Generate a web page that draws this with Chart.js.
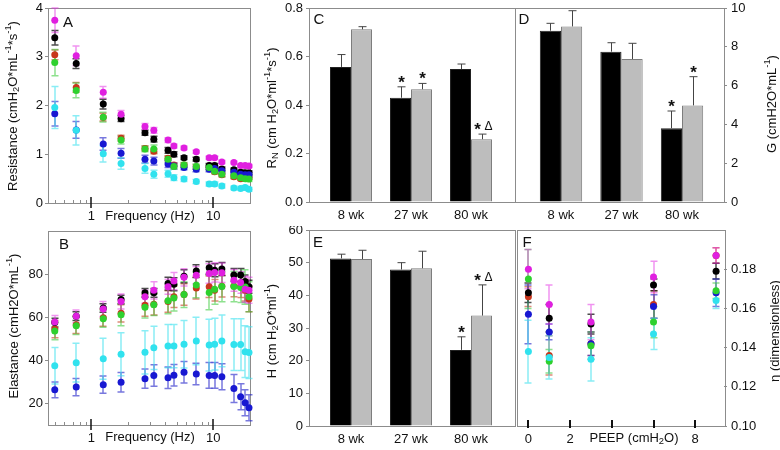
<!DOCTYPE html>
<html>
<head>
<meta charset="utf-8">
<script src="https://cdn.jsdelivr.net/npm/chart.js@4.4.1/dist/chart.umd.min.js"></script>
<style>
  html, body { margin: 0; padding: 0; background: #fff; }
  #wrap { position: relative; width: 780px; height: 450px; overflow: hidden; }
  #wrap canvas { position: absolute; }
</style>
</head>
<body>
<div id="wrap">
  <canvas id="panelA" width="258" height="226" style="left:0;top:0"></canvas>
  <canvas id="panelB" width="258" height="224" style="left:0;top:226px"></canvas>
  <canvas id="panelC" width="259" height="226" style="left:258px;top:0"></canvas>
  <canvas id="panelD" width="267" height="226" style="left:513px;top:0"></canvas>
  <canvas id="panelE" width="259" height="224" style="left:258px;top:226px"></canvas>
  <canvas id="panelF" width="267" height="224" style="left:513px;top:226px"></canvas>
</div>
<script>
// ---- data: frequency panels (A, B) ----
const freqHz = [0.5, 0.75, 1.25, 1.75, 2.75, 3.25, 4.25, 4.75, 5.75, 7.25, 9.25, 10.25, 11.75, 14.75, 16.75, 18.25, 19.625];

const resMagenta = [3.75, 3.02, 2.27, 1.82, 1.57, 1.49, 1.29, 1.17, 1.13, 1.05, 0.93, 0.93, 0.84, 0.83, 0.77, 0.77, 0.76];
const resBlack   = [3.39, 2.86, 2.03, 1.73, 1.44, 1.31, 1.08, 1.00, 0.93, 0.90, 0.77, 0.77, 0.70, 0.68, 0.63, 0.62, 0.62];
const resRed     = [3.04, 2.37, 1.76, 1.33, 1.12, 1.06, 0.92, 0.78, 0.78, 0.74, 0.72, 0.64, 0.58, 0.54, 0.50, 0.51, 0.52];
const resGreen   = [2.88, 2.31, 1.76, 1.29, 1.11, 1.11, 0.90, 0.75, 0.78, 0.75, 0.73, 0.65, 0.59, 0.56, 0.52, 0.50, 0.49];
const resBlue    = [1.83, 1.50, 1.21, 1.02, 0.90, 0.86, 0.80, 0.76, 0.73, 0.69, 0.69, 0.71, 0.66, 0.63, 0.59, 0.58, 0.58];
const resCyan    = [1.96, 1.49, 1.01, 0.81, 0.71, 0.59, 0.60, 0.52, 0.49, 0.44, 0.39, 0.39, 0.35, 0.31, 0.30, 0.32, 0.28];

const resMagentaSd = [0.25, 0.20, 0.12, 0.08, 0.06, 0.06, 0.05, 0.04, 0.04, 0.03, 0.03, 0.03, 0.03, 0.03, 0.03, 0.03, 0.03];
const resBlackSd   = [0.15, 0.10, 0.10, 0.06, 0.05, 0.06, 0.06, 0.05, 0.04, 0.04, 0.04, 0.04, 0.04, 0.04, 0.04, 0.04, 0.04];
const resRedSd     = [0.10, 0.10, 0.08, 0.06, 0.05, 0.05, 0.05, 0.04, 0.04, 0.04, 0.04, 0.04, 0.04, 0.04, 0.04, 0.04, 0.04];
const resGreenSd   = [0.27, 0.15, 0.10, 0.08, 0.06, 0.08, 0.06, 0.05, 0.05, 0.05, 0.05, 0.05, 0.05, 0.05, 0.05, 0.05, 0.05];
const resBlueSd    = [0.25, 0.17, 0.13, 0.10, 0.08, 0.08, 0.07, 0.06, 0.05, 0.05, 0.05, 0.05, 0.05, 0.05, 0.05, 0.05, 0.05];
const resCyanSd    = [0.43, 0.30, 0.17, 0.12, 0.10, 0.08, 0.07, 0.06, 0.05, 0.04, 0.04, 0.04, 0.04, 0.04, 0.04, 0.04, 0.04];

const elaMagenta = [57.8, 60.4, 63.8, 67.3, 69.5, 72.5, 74.1, 76.8, 78.5, 79.5, 80.3, 80.8, 80.6, 77.1, 76.1, 73.0, 72.5];
const elaBlack   = [57.5, 60.5, 64.3, 68.2, 71.3, 71.3, 75.6, 75.3, 79.0, 81.4, 82.9, 81.8, 82.4, 79.6, 79.6, 76.6, 74.1];
const elaRed     = [54.5, 56.5, 59.8, 61.8, 65.5, 66.0, 67.3, 69.5, 70.5, 73.5, 74.1, 72.5, 74.4, 74.5, 74.2, 72.5, 68.5];
const elaGreen   = [53.6, 56.0, 59.3, 61.1, 64.6, 65.8, 67.6, 68.9, 70.5, 75.0, 71.5, 73.0, 74.2, 74.2, 73.8, 74.0, 69.5];
const elaBlue    = [26.3, 27.6, 28.7, 29.8, 31.5, 33.0, 31.9, 33.1, 34.5, 33.7, 33.0, 33.0, 32.4, 26.9, 23.1, 20.3, 18.0];
const elaCyan    = [37.5, 38.9, 40.7, 42.8, 43.7, 45.8, 46.6, 46.6, 47.5, 49.0, 47.1, 47.5, 49.0, 47.3, 47.3, 44.0, 43.6];

const elaMagentaSd = [3, 3, 3.5, 3.5, 3, 4, 3.5, 4, 4, 4, 4.5, 4.5, 4.5, 5, 5, 6, 6];
const elaBlackSd   = [2, 2, 2, 2, 2, 2, 3, 3, 3, 3, 3, 3, 3, 3, 3, 3, 3];
const elaRedSd     = [4, 4, 4, 4, 5, 5, 5, 5, 5, 5, 5, 5, 5, 5, 5, 5, 6];
const elaGreenSd   = [4, 4, 4, 5, 5, 5, 6, 6, 6, 6, 8, 7, 7, 7, 7, 8, 7];
const elaBlueSd    = [3.7, 4, 4, 4.5, 4.5, 5, 5, 5, 5, 5, 6, 6, 6, 6.5, 6, 6, 6];
const elaCyanSd    = [8.5, 9, 9.5, 10, 10, 10, 10, 10, 11, 11, 12, 12, 12, 12, 12, 12, 12];

// ---- data: PEEP panel (F) ----
const peepCmH2O = [0, 1, 3, 6, 9];
const etaMagenta = [0.180, 0.162, 0.153, 0.176, 0.187];
const etaBlack   = [0.168, 0.155, 0.152, 0.172, 0.179];
const etaRed     = [0.166, 0.136, 0.142, 0.162, 0.187];
const etaGreen   = [0.175, 0.133, 0.141, 0.153, 0.169];
const etaBlue    = [0.157, 0.148, 0.142, 0.161, 0.168];
const etaCyan    = [0.138, 0.135, 0.134, 0.147, 0.164];
const etaMagentaSd = [0.010, 0.010, 0.009, 0.008, 0.004];
const etaBlackSd   = [0.005, 0.007, 0.005, 0.003, 0.004];
const etaRedSd     = [0.005, 0.010, 0.006, 0.007, 0.004];
const etaGreenSd   = [0.015, 0.006, 0.007, 0.008, 0.004];
const etaBlueSd    = [0.015, 0.004, 0.006, 0.006, 0.007];
const etaCyanSd    = [0.016, 0.011, 0.011, 0.008, 0.004];

// ---- data: bar panels (C, D, E) ----
const ageGroups = ['8 wk', '27 wk', '80 wk'];
const rnBlack = [0.557, 0.430, 0.548];  const rnBlackSe = [0.051, 0.045, 0.021];
const rnGray  = [0.712, 0.465, 0.259];  const rnGraySe  = [0.011, 0.024, 0.021];
const rnBlackMarks = ['', '*', ''];     const rnGrayMarks = ['', '*', '*Δ'];
const gBlack = [8.83, 7.75, 3.80];      const gBlackSe = [0.38, 0.46, 0.89];
const gGray  = [9.05, 7.37, 4.98];      const gGraySe  = [0.81, 0.81, 1.48];
const gBlackMarks = ['', '', '*'];      const gGrayMarks = ['', '', '*'];
const hBlack = [51.3, 47.9, 23.3];      const hBlackSe = [1.3, 2.1, 4.0];
const hGray  = [51.1, 48.3, 33.8];      const hGraySe  = [2.7, 5.2, 9.4];
const hBlackMarks = ['', '', '*'];      const hGrayMarks = ['', '', '*Δ'];

// ---- styling ----
const FONT = "'Liberation Sans', Arial, sans-serif";
Chart.defaults.font.family = FONT;
Chart.defaults.font.size = 13;
Chart.defaults.color = '#111';

const palette = {
  cyan:    ['#30e2ee', 'rgba(60,225,238,0.6)'],
  magenta: ['#e01fe0', 'rgba(225,40,225,0.5)'],
  green:   ['#2ed12e', 'rgba(50,200,50,0.55)'],
  blue:    ['#1818d2', 'rgba(30,30,200,0.6)'],
  black:   ['#000000', 'rgba(0,0,0,0.7)'],
  red:     ['#c8361c', 'rgba(200,60,30,0.6)']
};

function scatterSets(xs, list) {
  return list.map(([name, values, errors]) => ({
    label: name,
    data: xs.map((x, i) => ({ x: x, y: values[i] })),
    errors: errors,
    errColor: palette[name][1],
    backgroundColor: palette[name][0],
    borderWidth: 0,
    pointRadius: 3.5,
    pointHoverRadius: 3.5,
    clip: false
  }));
}

function barSets(blackVals, blackErr, blackMarks, grayVals, grayErr, grayMarks) {
  return [
    { data: blackVals.map((v, i) => ({ x: i, y: v })), errors: blackErr, marks: blackMarks,
      backgroundColor: '#000', borderColor: '#222', borderWidth: 1,
      categoryPercentage: 0.7, barPercentage: 1 },
    { data: grayVals.map((v, i) => ({ x: i, y: v })), errors: grayErr, marks: grayMarks,
      backgroundColor: '#bdbdbd', borderColor: '#7d7d7d', borderWidth: 1,
      categoryPercentage: 0.7, barPercentage: 1 }
  ];
}

// canvas boxes and chart areas in page pixels
function padFor(box, area, leftW, rightW, bottomH) {
  return {
    left: area[0] - box[0] - leftW,
    right: box[0] + box[2] - area[2] - rightW,
    top: area[1] - box[1],
    bottom: box[1] + box[3] - area[3] - bottomH
  };
}
function zeroPad(s) { s.paddingLeft = 0; s.paddingRight = 0; s.paddingTop = 0; s.paddingBottom = 0; }

const logMinor = [0.5, 0.6, 0.7, 0.8, 0.9, 2, 3, 4, 5, 6, 7, 8, 9, 20];

const panelDecor = {
  panelA: { box: [0, 0], letter: ['A', 68, 23],
    title: { x: 13, y: 106, parts: [['Resistance (cmH', ''], ['2', 'sub'], ['O*mL', ''], ['-1', 'sup'], ['*s', ''], ['-1', 'sup'], [')', '']] },
    extra: [{ x: 150, y: 216, parts: [['Frequency (Hz)', '']] }],
    xTicks: { major: [1, 10], minor: logMinor } },
  panelB: { box: [0, 226], letter: ['B', 64, 245],
    title: { x: 14, y: 326, parts: [['Elastance (cmH2O*mL', ''], ['-1', 'sup'], [')', '']] },
    extra: [{ x: 150, y: 437, parts: [['Frequency (Hz)', '']] }],
    xTicks: { major: [1, 10], minor: logMinor } },
  panelC: { box: [258, 0], letter: ['C', 319, 20],
    title: { x: 272, y: 108, parts: [['R', ''], ['N', 'sub'], [' (cm H', ''], ['2', 'sub'], ['O*ml', ''], ['-1', 'sup'], ['*s', ''], ['-1', 'sup'], [')', '']] },
    extra: [] },
  panelD: { box: [513, 0], letter: ['D', 524, 20],
    title: { x: 772, y: 104, parts: [['G (cmH2O*mL', ''], ['-1', 'sup'], [')', '']] },
    extra: [] },
  panelE: { box: [258, 226], letter: ['E', 318, 243],
    title: { x: 272, y: 331, parts: [['H (cm H', ''], ['2', 'sub'], ['O*ml', ''], ['-1', 'sup'], [')', '']] },
    extra: [] },
  panelF: { box: [513, 226], letter: ['F', 527, 243],
    title: { x: 775, y: 331, parts: [['η (dimensionless)', '']] },
    extra: [{ x: 634, y: 438, parts: [['PEEP (cmH', ''], ['2', 'sub'], ['O)', '']] }],
    xTicks: { major: [0, 2, 4, 6, 8], minor: [], heavy: true } }
};

function drawRich(ctx, parts, x, y, size, rotate) {
  ctx.save();
  ctx.translate(x, y);
  if (rotate) ctx.rotate(-Math.PI / 2);
  let total = 0;
  const widths = parts.map(([t, k]) => {
    ctx.font = (k ? size * 0.72 : size) + 'px ' + FONT;
    const w = ctx.measureText(t).width;
    total += w;
    return w;
  });
  let cx = -total / 2;
  ctx.textBaseline = 'middle';
  ctx.textAlign = 'left';
  ctx.fillStyle = '#111';
  parts.forEach(([t, k], i) => {
    ctx.font = (k ? size * 0.72 : size) + 'px ' + FONT;
    const dy = k === 'sub' ? size * 0.3 : (k === 'sup' ? -size * 0.33 : 0);
    ctx.fillText(t, cx, dy);
    cx += widths[i];
  });
  ctx.restore();
}

const decorPlugin = {
  id: 'decor',
  beforeDatasetsDraw(chart) {
    const a = chart.chartArea, ctx = chart.ctx;
    ctx.save();
    ctx.strokeStyle = '#8c8c8c';
    ctx.lineWidth = 1;
    ctx.strokeRect(Math.round(a.left) + 0.5, Math.round(a.top) + 0.5,
      Math.round(a.right - a.left), Math.round(a.bottom - a.top));
    ctx.restore();
  },
  afterDraw(chart) {
    const d = panelDecor[chart.canvas.id];
    const ctx = chart.ctx, a = chart.chartArea;
    const ox = d.box[0], oy = d.box[1];
    ctx.save();
    if (d.xTicks) {
      const xs = chart.scales.x;
      ctx.strokeStyle = '#8c8c8c';
      ctx.lineWidth = 1;
      d.xTicks.minor.forEach(v => {
        const px = Math.round(xs.getPixelForValue(v)) + 0.5;
        ctx.beginPath(); ctx.moveTo(px, a.bottom); ctx.lineTo(px, a.bottom - 3); ctx.stroke();
      });
      ctx.strokeStyle = '#111';
      ctx.lineWidth = d.xTicks.heavy ? 2 : 1.5;
      d.xTicks.major.forEach(v => {
        const px = Math.round(xs.getPixelForValue(v));
        ctx.beginPath(); ctx.moveTo(px, a.bottom - 6); ctx.lineTo(px, a.bottom + (d.xTicks.heavy ? 2 : 5)); ctx.stroke();
      });
    }
    ctx.fillStyle = '#111';
    ctx.font = '15px ' + FONT;
    ctx.textAlign = 'center';
    ctx.textBaseline = 'middle';
    ctx.fillText(d.letter[0], d.letter[1] - ox, d.letter[2] - oy);
    drawRich(ctx, d.title.parts, d.title.x - ox, d.title.y - oy, 13, true);
    d.extra.forEach(e => drawRich(ctx, e.parts, e.x - ox, e.y - oy, 13, false));
    ctx.restore();
  }
};

function drawErrors(chart, upOnly) {
  const ctx = chart.ctx, ys = chart.scales.y;
  const sets = chart.data.datasets;
  ctx.save();
  for (let i = sets.length - 1; i >= 0; i--) {
    const ds = sets[i];
    const meta = chart.getDatasetMeta(i);
    ctx.strokeStyle = ds.errColor || '#444';
    ctx.lineWidth = upOnly ? 1 : 1.5;
    const cap = upOnly ? 4 : 3.5;
    meta.data.forEach((el, j) => {
      const v = ds.data[j].y, e = ds.errors[j];
      const x = Math.round(el.x) + (upOnly ? 0.5 : 0);
      const yTop = ys.getPixelForValue(v + e);
      const yBot = upOnly ? ys.getPixelForValue(v) : ys.getPixelForValue(v - e);
      ctx.beginPath();
      ctx.moveTo(x, yBot); ctx.lineTo(x, yTop);
      ctx.moveTo(x - cap, yTop); ctx.lineTo(x + cap, yTop);
      if (!upOnly) { ctx.moveTo(x - cap, yBot); ctx.lineTo(x + cap, yBot); }
      ctx.stroke();
      if (ds.marks && ds.marks[j]) {
        const m = ds.marks[j];
        ctx.fillStyle = '#111';
        ctx.textBaseline = 'alphabetic';
        ctx.textAlign = 'center';
        ctx.font = 'bold 17px ' + FONT;
        if (m === '*') {
          ctx.fillText('*', x, yTop + 1);
        } else {
          ctx.fillText('*', x - 5, yTop + 1);
          ctx.font = '12px ' + FONT;
          ctx.fillText('Δ', x + 6, yTop - 4);
        }
      }
    });
  }
  ctx.restore();
}

const errorBarPlugin = {
  id: 'errorBars',
  beforeDatasetsDraw(chart) { if (chart.config.type === 'scatter') drawErrors(chart, false); },
  afterDatasetsDraw(chart) { if (chart.config.type === 'bar') drawErrors(chart, true); }
};

const tickGrid = { drawOnChartArea: false, drawTicks: true, tickLength: 3, color: '#8c8c8c' };

function yScale(opts, width, position) {
  return Object.assign({
    position: position || 'left',
    grid: tickGrid,
    border: { display: false },
    afterFit: s => { s.width = width; zeroPad(s); }
  }, opts);
}

function xBase(opts, padding) {
  return Object.assign({
    grid: { display: false, drawTicks: false },
    border: { display: false },
    afterFit: s => { s.height = 22; zeroPad(s); }
  }, opts, { ticks: Object.assign({ padding: padding, autoSkip: false, maxRotation: 0 }, opts.ticks || {}) });
}

function baseOptions(pad, scales) {
  return {
    responsive: false, animation: false, devicePixelRatio: 1,
    layout: { padding: pad },
    plugins: { legend: { display: false }, tooltip: { enabled: false } },
    events: [],
    scales: scales
  };
}

function freqChart(id, box, area, series, yOpts) {
  return new Chart(document.getElementById(id), {
    type: 'scatter',
    data: { datasets: scatterSets(freqHz, series) },
    options: baseOptions(padFor(box, area, 48, 0, 22), {
      x: xBase({ type: 'logarithmic', min: 0.44, max: 20,
        afterBuildTicks: s => { s.ticks = [{ value: 1 }, { value: 10 }]; },
        ticks: { callback: v => String(v) } }, 6),
      y: yScale(yOpts, 48)
    }),
    plugins: [decorPlugin, errorBarPlugin]
  });
}

function barChart(id, box, area, sets, xRange, yOpts, leftW, rightW, yPos) {
  return new Chart(document.getElementById(id), {
    type: 'bar',
    data: { datasets: sets },
    options: baseOptions(padFor(box, area, leftW, rightW, 22), {
      x: xBase({ type: 'linear', min: xRange[0], max: xRange[1], offset: false,
        afterBuildTicks: s => { s.ticks = ageGroups.map((g, i) => ({ value: i })); },
        ticks: { callback: v => ageGroups[v] } }, 6),
      y: yScale(yOpts, leftW || rightW, yPos)
    }),
    plugins: [decorPlugin, errorBarPlugin]
  });
}

// A: resistance
freqChart('panelA', [0, 0, 258, 226], [48, 8, 250, 203], [
  ['cyan', resCyan, resCyanSd], ['magenta', resMagenta, resMagentaSd], ['green', resGreen, resGreenSd],
  ['blue', resBlue, resBlueSd], ['black', resBlack, resBlackSd], ['red', resRed, resRedSd]
], { min: 0, max: 4, ticks: { stepSize: 1, padding: 2 } });

// B: elastance
freqChart('panelB', [0, 226, 258, 224], [48, 231, 250, 425], [
  ['cyan', elaCyan, elaCyanSd], ['magenta', elaMagenta, elaMagentaSd], ['green', elaGreen, elaGreenSd],
  ['blue', elaBlue, elaBlueSd], ['black', elaBlack, elaBlackSd], ['red', elaRed, elaRedSd]
], { min: 10, max: 100, afterBuildTicks: s => { s.ticks = [20, 40, 60, 80].map(v => ({ value: v })); },
     ticks: { padding: 2 } });

// C: R_N bars
barChart('panelC', [258, 0, 259, 226], [309, 8, 515, 202],
  barSets(rnBlack, rnBlackSe, rnBlackMarks, rnGray, rnGraySe, rnGrayMarks), [-0.7, 2.733],
  { min: 0, max: 0.8, ticks: { stepSize: 0.2, padding: 3, callback: v => v.toFixed(1) } }, 51, 0, 'left');

// D: G bars
barChart('panelD', [513, 0, 267, 226], [515, 8, 724, 202],
  barSets(gBlack, gBlackSe, gBlackMarks, gGray, gGraySe, gGrayMarks), [-0.76, 2.694],
  { min: 0, max: 10, ticks: { stepSize: 2, padding: 4 } }, 0, 56, 'right');

// E: H bars
barChart('panelE', [258, 226, 259, 224], [309, 230, 515, 426],
  barSets(hBlack, hBlackSe, hBlackMarks, hGray, hGraySe, hGrayMarks), [-0.7, 2.733],
  { min: 0, max: 60, ticks: { stepSize: 10, padding: 3 } }, 51, 0, 'left');

// F: eta vs PEEP
new Chart(document.getElementById('panelF'), {
  type: 'scatter',
  data: { datasets: scatterSets(peepCmH2O, [
    ['cyan', etaCyan, etaCyanSd], ['magenta', etaMagenta, etaMagentaSd], ['green', etaGreen, etaGreenSd],
    ['blue', etaBlue, etaBlueSd], ['black', etaBlack, etaBlackSd], ['red', etaRed, etaRedSd]
  ]) },
  options: baseOptions(padFor([513, 226, 267, 224], [515, 230, 724, 426], 0, 56, 22), {
    x: xBase({ type: 'linear', min: -0.57, max: 9.38,
      afterBuildTicks: s => { s.ticks = [0, 2, 4, 6, 8].map(v => ({ value: v })); },
      ticks: { callback: v => (v === 4 || v === 6) ? '' : String(v) } }, 6),
    y: yScale({ min: 0.1, max: 0.2,
      afterBuildTicks: s => { s.ticks = [0.10, 0.12, 0.14, 0.16, 0.18].map(v => ({ value: v })); },
      ticks: { padding: 4, callback: v => v.toFixed(2) } }, 56, 'right')
  }),
  plugins: [decorPlugin, errorBarPlugin]
});
</script>
</body>
</html>
